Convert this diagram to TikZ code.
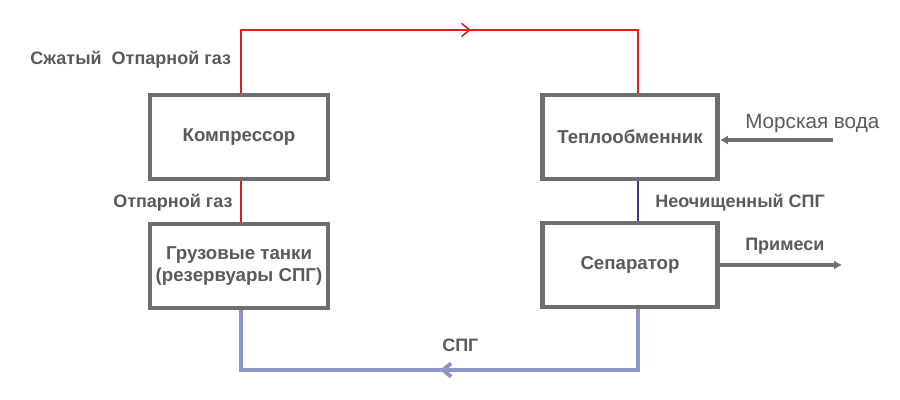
\documentclass[tikz,border=0pt]{standalone}
\usepackage{fontspec}
\setmainfont{Liberation Sans}
\usetikzlibrary{decorations.markings,arrows.meta}
\definecolor{bx}{HTML}{6E6E6E}
\definecolor{tx}{HTML}{5A5A5A}
\definecolor{rd}{HTML}{E02020}
\definecolor{bl}{HTML}{8C96C8}
\definecolor{db}{HTML}{3A3A8A}
\begin{document}
\begin{tikzpicture}[x=0.75pt,y=-0.75pt,
 box/.style={draw=bx,line width=3.6pt,inner sep=0pt,font=\bfseries\fontsize{14}{17}\selectfont,text=tx,align=center},
 lbl/.style={font=\bfseries\fontsize{13.5}{15}\selectfont,text=tx,inner sep=0pt},
 red/.style={draw=rd,line width=1.2pt},
 mid/.style={postaction={decorate},decoration={markings,mark=at position #1 with {\arrow{Straight Barb[length=6pt,width=10pt]}}}}]
\useasboundingbox (0,0) rectangle (900,400);
\node[box,minimum width=178*0.75pt,minimum height=84*0.75pt] (k) at (239,137) {Компрессор};
\node[box,minimum width=175*0.75pt,minimum height=84*0.75pt] (t) at (630,137) {Теплообменник};
\node[box,minimum width=178*0.75pt,minimum height=84*0.75pt] (g) at (239,266) {Грузовые танки\\(резервуары СПГ)};
\node[box,minimum width=175*0.75pt,minimum height=84*0.75pt] (s) at (630,265) {Сепаратор};
\coordinate (r1) at (241,30);
\coordinate (r2) at (638,30);
\draw[red,mid=0.56] ([xshift=1.5pt]k.north) -- (r1) -- (r2) -- ([xshift=6pt]t.north);
\draw[red] ([xshift=1.5pt]k.south) -- ([xshift=1.5pt]g.north);
\draw[draw=db,line width=0.9pt] ([xshift=6pt]t.south) -- ([xshift=6pt]s.south |- s.north);
\coordinate (b1) at (241,370);
\coordinate (b2) at (638,370);
\draw[draw=bl,line width=3pt,mid=0.5] ([xshift=6pt]s.south) -- (b2) -- (b1) -- ([xshift=1.5pt]g.south);
\coordinate (m) at (833,140);
\coordinate (p) at (842,265);
\draw[draw=bx,line width=2.6pt,-{Latex[length=6pt,width=7pt]}] (m) -- (t.east |- m);
\draw[draw=bx,line width=2.6pt,-{Latex[length=6pt,width=7pt]}] (s.east |- p) -- (p);
\node[font=\fontsize{15.5}{17}\selectfont,text=tx,anchor=west,inner sep=0pt] (mv) at (745,124) {Морская вода};
\node[lbl,anchor=west] (pr) at (745,246) {Примеси};
\node[lbl,anchor=west] (cz) at (30,60) {Сжатый\ \ Отпарной газ};
\node[lbl,anchor=west] (og) at (113,203) {Отпарной газ};
\node[lbl,anchor=west] (ns) at (655,203) {Неочищенный СПГ};
\node[lbl,anchor=west] (spg) at (442,345) {СПГ};
\end{tikzpicture}
\end{document}
